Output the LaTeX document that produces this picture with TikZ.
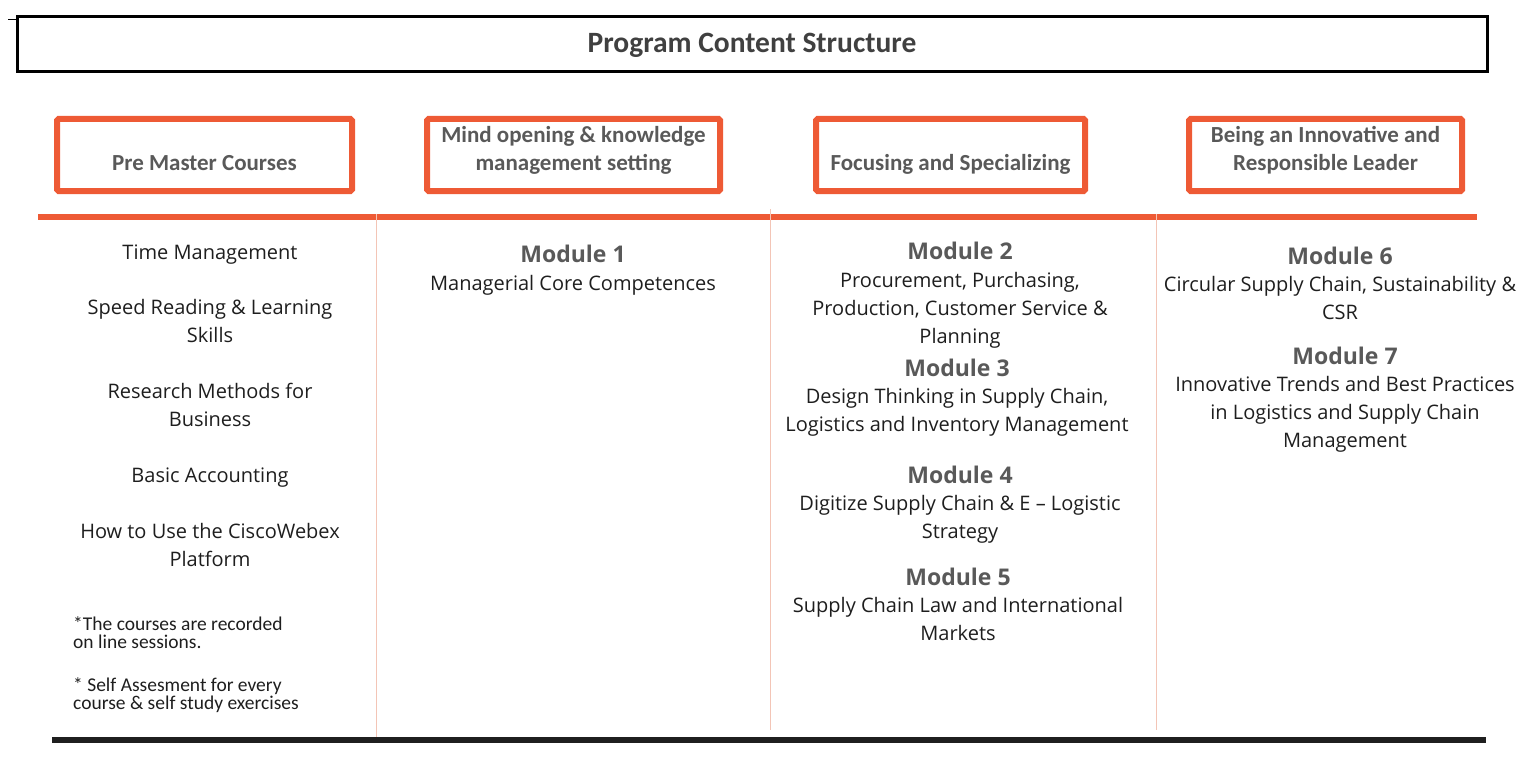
\documentclass[tikz,border=0pt]{standalone}
\usepackage{fontspec}
\setmainfont{Open Sans}
\newfontfamily\calib{Carlito}
\definecolor{orng}{HTML}{EE5A35}
\definecolor{pinkline}{HTML}{F3C5B6}
\definecolor{hdgray}{HTML}{595959}
\definecolor{bodyc}{HTML}{1E1E1E}
\definecolor{titlec}{HTML}{404040}
\tikzset{
  phase/.style={draw=orng, line width=6pt, rounded corners=1.5pt, inner sep=0pt},
  phasetext/.style={font=\calib\bfseries\fontsize{23}{28}\selectfont, text=hdgray, align=center, anchor=base},
  body/.style={font=\fontsize{20}{28}\selectfont, text=bodyc, align=center, anchor=base},
  modh/.style={font=\bfseries\fontsize{23}{28}\selectfont, text=hdgray, anchor=base},
  note/.style={font=\calib\fontsize{19.5}{18}\selectfont, text=bodyc, align=left, anchor=base west, inner sep=0pt},
  sep/.style={draw=pinkline, line width=1pt}
}
\begin{document}
\begin{tikzpicture}[x=1pt,y=-1pt]
\useasboundingbox (0,0) rectangle (1522,757);
% title
\coordinate (tk1) at (8,20); \coordinate (tk2) at (17,20);
\draw[line width=1pt, black] (tk1) -- (tk2);
\node[draw=black, line width=3pt, minimum width=1470pt, minimum height=55pt, inner sep=0pt] (title) at (752,44.5) {};
\node[font=\calib\bfseries\fontsize{29.5}{32}\selectfont, text=titlec] (titletext) at (752,45) {Program Content Structure};
% phase boxes
\node[phase, minimum width=295pt, minimum height=72pt] (p1) at (204.5,155) {};
\node[phase, minimum width=293pt, minimum height=72pt] (p2) at (573.5,155) {};
\node[phase, minimum width=269pt, minimum height=72pt] (p3) at (950.5,155) {};
\node[phase, minimum width=273pt, minimum height=72pt] (p4) at (1325.5,155) {};
\node[phasetext] (p1t) at (204.5,170) {Pre Master Courses};
\node[phasetext] (p2t) at (573.5,170) {Mind opening \& knowledge\\management setting};
\node[phasetext] (p3t) at (950.5,170) {Focusing and Specializing};
\node[phasetext] (p4t) at (1325.5,170) {Being an Innovative and\\Responsible Leader};
% lines
\coordinate (oL) at (38,217); \coordinate (oR) at (1477,217);
\draw[draw=orng, line width=6pt] (oL) -- (oR);
\coordinate (s1a) at (376,214); \coordinate (s1b) at (376,740);
\coordinate (s2a) at (770,209); \coordinate (s2b) at (770,730);
\coordinate (s3a) at (1156,214); \coordinate (s3b) at (1156,730);
\draw[sep] (s1a) -- (s1b);
\draw[sep] (s2a) -- (s2b);
\draw[sep] (s3a) -- (s3b);
\coordinate (bL) at (52,740); \coordinate (bR) at (1486,740);
\draw[draw=black!88, line width=6pt] (bL) -- (bR);
% column 1
\node[body] (c1a) at (210,259.5) {Time Management};
\node[body] (c1b) at (210,342.5) {Speed Reading \& Learning\\Skills};
\node[body] (c1c) at (210,426) {Research Methods for\\Business};
\node[body] (c1d) at (210,482.5) {Basic Accounting};
\node[body] (c1e) at (210,566) {How to Use the CiscoWebex\\Platform};
\node[note] (n1) at (73,648) {*The courses are recorded\\on line sessions.};
\node[note] (n2) at (73,709) {* Self Assesment for every\\course \& self study exercises};
% column 2
\node[modh] (m1) at (573,262) {Module 1};
\node[body] (m1t) at (573,290.5) {Managerial Core Competences};
% column 3
\node[modh] (m2) at (960,259) {Module 2};
\node[body] (m2t) at (960,343.5) {Procurement, Purchasing,\\Production, Customer Service \&\\Planning};
\node[modh] (m3) at (957,376) {Module 3};
\node[body] (m3t) at (957,431.5) {Design Thinking in Supply Chain,\\Logistics and Inventory Management};
\node[modh] (m4) at (960,483) {Module 4};
\node[body] (m4t) at (960,538.5) {Digitize Supply Chain \& E -- Logistic\\Strategy};
\node[modh] (m5) at (958,585) {Module 5};
\node[body] (m5t) at (958,640.5) {Supply Chain Law and International\\Markets};
% column 4
\node[modh] (m6) at (1340,264) {Module 6};
\node[body] (m6t) at (1340,319.5) {Circular Supply Chain, Sustainability \&\\CSR};
\node[modh] (m7) at (1345,364) {Module 7};
\node[body] (m7t) at (1345,447.5) {Innovative Trends and Best Practices\\in Logistics and Supply Chain\\Management};
\end{tikzpicture}
\end{document}
